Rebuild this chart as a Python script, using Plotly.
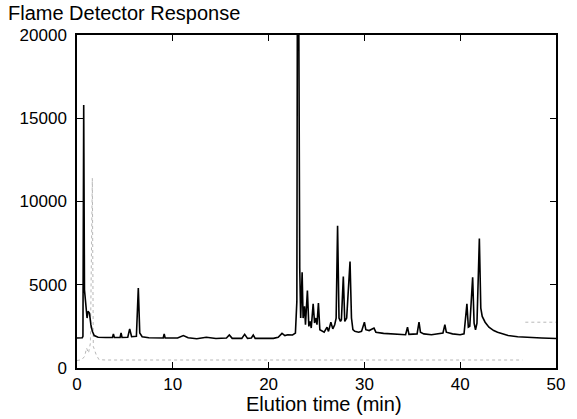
import plotly.graph_objects as go

# Main flame detector trace: elution time (min) and response
fid_time = [0.0, 0.55, 0.62, 0.70, 0.78, 0.85, 0.95, 1.05, 1.15, 1.30, 1.45, 1.60, 1.80, 2.2,
            3.0, 3.7, 3.8, 3.9, 4.5, 4.6, 4.7, 5.3, 5.5, 5.7, 6.2, 6.4, 6.55, 6.8, 7.5,
            9.0, 9.1, 9.2, 10.5, 11.1, 11.6, 12.5, 13.5, 14.5, 15.6, 15.9, 16.2, 17.2, 17.5, 17.8,
            18.2, 18.4, 18.6, 19.5, 20.5, 21.0, 21.4, 21.7, 22.0, 22.5, 22.8, 22.95, 23.0, 23.15,
            23.25, 23.35, 23.5, 23.6, 23.75, 23.85, 24.05, 24.2, 24.35, 24.45, 24.65, 24.8, 24.95,
            25.05, 25.2, 25.35, 25.6, 25.8, 26.1, 26.25, 26.5, 26.7, 26.9, 27.05, 27.2, 27.35,
            27.5, 27.6, 27.8, 27.95, 28.15, 28.3, 28.5, 28.65, 28.8, 29.0, 29.4, 29.7, 30.0,
            30.15, 30.5, 31.0, 31.2, 32.0, 33.0, 34.3, 34.5, 34.65, 35.5, 35.7, 35.85, 36.2,
            37.0, 38.2, 38.4, 38.55, 39.2, 40.0, 40.4, 40.7, 40.85, 41.0, 41.3, 41.45, 41.6,
            41.75, 42.0, 42.15, 42.3, 42.6, 43.0, 43.5, 43.9, 44.5, 45.0, 46.0, 47.0, 48.5, 50.0]
fid_resp = [1800, 1820, 1900, 15800, 4700, 4200, 3300, 3000, 3400, 3300, 2600, 2200, 1950, 1850,
            1830, 1830, 2050, 1830, 1830, 2100, 1830, 1850, 2350, 1880, 1900, 4800, 2100, 1880, 1820,
            1800, 2050, 1800, 1800, 1950, 1820, 1760, 1850, 1770, 1800, 1980, 1780, 1780, 2020, 1780,
            1800, 1980, 1780, 1760, 1780, 1850, 2080, 1950, 2000, 1980, 2100, 4000, 21000, 21000,
            6000, 3000, 5750, 3000, 3700, 2600, 4650, 2500, 2800, 2400, 3850, 2700, 3000,
            2600, 3900, 2300, 2200, 2150, 2450, 2200, 2750, 2350, 2600, 3000, 8550, 3000,
            2800, 2900, 5500, 2800, 3000, 4600, 6400, 3000, 2300, 2200, 2150, 2200, 2750,
            2300, 2250, 2400, 2150, 2080, 2050, 2000, 2450, 2020, 2050, 2750, 2150, 2050,
            2000, 2100, 2600, 2150, 2050, 2000, 2050, 3850, 2450, 2500, 5450, 2700, 2300,
            2700, 7770, 3600, 3100, 2750, 2450, 2250, 2150, 2020, 1950, 1880, 1840, 1800, 1770]

# Second (dotted, grey) trace; None marks a gap in the record
aux_time = [0.0, 0.5, 0.8, 1.0, 1.2, 1.4, 1.6, 1.7, 2.0, 2.3, 3.0, 46.5, None, 46.8, 50.0]
aux_resp = [450, 500, 700, 1200, 900, 1500, 11400, 1300, 800, 500, 480, 480, None, 2750, 2750]

x_ticks = [0, 10, 20, 30, 40, 50]
y_ticks = [0, 5000, 10000, 15000, 20000]
y_tick_labels = ["0", "5000", "10000", "15000", "20000"]

FONT = "Liberation Sans, Arial, Helvetica, sans-serif"

fig = go.Figure()
fig.add_trace(go.Scatter(x=aux_time, y=aux_resp, mode="lines", connectgaps=False,
                         line=dict(color="#b8b8b8", width=1, dash="dot"),
                         showlegend=False, hoverinfo="skip"))
fig.add_trace(go.Scatter(x=fid_time, y=fid_resp, mode="lines",
                         line=dict(color="black", width=1.6),
                         showlegend=False))

axis_common = dict(showline=True, linecolor="black", linewidth=1.5, mirror="ticks",
                   ticks="inside", ticklen=6, tickwidth=1.2, tickcolor="black",
                   showgrid=False, zeroline=False,
                   tickfont=dict(family=FONT, size=17, color="black"))

fig.update_layout(
    width=577, height=419,
    margin=dict(l=77, r=15, t=35, b=51),
    paper_bgcolor="white", plot_bgcolor="white",
    xaxis=dict(range=[0, 50], tickvals=x_ticks, ticklabelstandoff=0, **axis_common),
    yaxis=dict(range=[0, 20000], tickvals=y_ticks, ticktext=y_tick_labels,
               ticklabelstandoff=5, **axis_common),
    annotations=[
        dict(text="Flame Detector Response", xref="paper", yref="paper",
             x=-0.148, y=1.0, yshift=22, xanchor="left", yanchor="middle", showarrow=False,
             font=dict(family=FONT, size=20, color="black")),
        dict(text="Elution time (min)", xref="paper", yref="paper",
             x=0.515, y=0.0, yshift=-36, xanchor="center", yanchor="middle", showarrow=False,
             font=dict(family=FONT, size=20, color="black")),
    ],
)

# remove the default page margin so the figure sits at the window's top-left corner
fig.write_html("out.html", config={"displayModeBar": False},
               post_script="document.body.style.margin='0';")
